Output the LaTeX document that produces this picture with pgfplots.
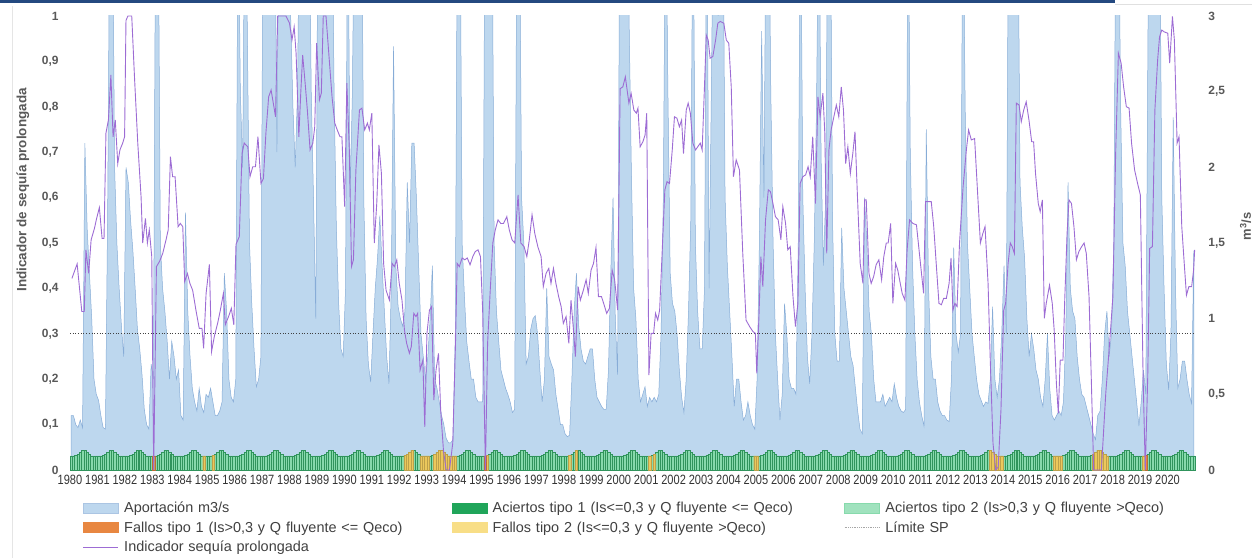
\documentclass[border=0pt]{standalone}
\usepackage{fontspec}
\setmainfont{Liberation Sans}
\newfontfamily\narrowfont[FakeStretch=0.82]{Liberation Sans}
\usepackage{pgfplots}
\usepackage{pgfplotstable}
\pgfplotsset{compat=1.18}
\definecolor{areafill}{RGB}{189,215,238}
\definecolor{areaedge}{RGB}{135,172,215}
\definecolor{purp}{RGB}{157,108,212}
\definecolor{grn}{RGB}{135,218,172}
\definecolor{grnedge}{RGB}{48,148,92}
\definecolor{dkgrn}{RGB}{32,165,90}
\definecolor{ltgrn}{RGB}{160,226,190}
\definecolor{yel}{RGB}{236,200,92}
\definecolor{legyel}{RGB}{248,222,135}
\definecolor{orng}{RGB}{232,135,65}
\definecolor{lblgray}{RGB}{89,89,89}
\definecolor{txtgray}{RGB}{64,64,64}
\definecolor{navy}{RGB}{36,73,128}
\pgfplotstableread[row sep=\\]{
x q b\\
1980.042 0.36 0.031\\ 1980.125 0.36 0.031\\ 1980.208 0.30 0.032\\ 1980.292 0.28 0.035\\ 1980.375 0.33 0.039\\ 1980.458 0.28 0.043\\ 1980.542 2.16 0.044\\ 1980.625 1.6 0.039\\ 1980.708 1.3 0.034\\ 1980.792 1.0 0.031\\ 1980.875 0.6 0.031\\ 1980.958 0.5 0.031\\
1981.042 0.46 0.031\\ 1981.125 0.36 0.031\\ 1981.208 0.28 0.032\\ 1981.292 0.27 0.035\\ 1981.375 1.77 0.039\\ 1981.458 4 0.043\\ 1981.542 4 0.044\\ 1981.625 2.0 0.039\\ 1981.708 1.5 0.034\\ 1981.792 1.2 0.031\\ 1981.875 0.95 0.031\\ 1981.958 0.75 0.031\\
1982.042 2.0 0.031\\ 1982.125 1.9 0.031\\ 1982.208 1.65 0.032\\ 1982.292 1.45 0.035\\ 1982.375 1.2 0.039\\ 1982.458 0.93 0.043\\ 1982.542 0.8 0.044\\ 1982.625 0.63 0.039\\ 1982.708 0.4 0.034\\ 1982.792 0.3 0.031\\ 1982.875 0.27 0.031\\ 1982.958 0.7 0.031\\
1983.042 0.6 0.031\\ 1983.125 4 0.031\\ 1983.208 4 0.032\\ 1983.292 1.5 0.035\\ 1983.375 1.2 0.039\\ 1983.458 1.05 0.043\\ 1983.542 0.85 0.044\\ 1983.625 0.6 0.039\\ 1983.708 0.85 0.034\\ 1983.792 0.75 0.031\\ 1983.875 0.6 0.031\\ 1983.958 0.66 0.031\\
1984.042 0.36 0.031\\ 1984.125 0.33 0.031\\ 1984.208 1.7 0.032\\ 1984.292 1.05 0.035\\ 1984.375 0.75 0.039\\ 1984.458 0.54 0.043\\ 1984.542 0.45 0.044\\ 1984.625 0.39 0.039\\ 1984.708 0.54 0.034\\ 1984.792 0.42 0.031\\ 1984.875 0.38 0.031\\ 1984.958 0.5 0.031\\
1985.042 0.48 0.031\\ 1985.125 0.54 0.031\\ 1985.208 0.45 0.032\\ 1985.292 0.36 0.035\\ 1985.375 0.36 0.039\\ 1985.458 0.39 0.043\\ 1985.542 0.45 0.044\\ 1985.625 1.3 0.039\\ 1985.708 1.05 0.034\\ 1985.792 0.6 0.031\\ 1985.875 0.48 0.031\\ 1985.958 0.45 0.031\\
1986.042 0.6 0.031\\ 1986.125 4 0.031\\ 1986.208 2.5 0.032\\ 1986.292 2.0 0.035\\ 1986.375 4 0.039\\ 1986.458 3 0.043\\ 1986.542 1.5 0.044\\ 1986.625 1.1 0.039\\ 1986.708 0.8 0.034\\ 1986.792 0.55 0.031\\ 1986.875 0.6 0.031\\ 1986.958 0.75 0.031\\
1987.042 4 0.031\\ 1987.125 4 0.031\\ 1987.208 4 0.032\\ 1987.292 4 0.035\\ 1987.375 4 0.039\\ 1987.458 4 0.043\\ 1987.542 2.1 0.044\\ 1987.625 4 0.039\\ 1987.708 4 0.034\\ 1987.792 4 0.031\\ 1987.875 4 0.031\\ 1987.958 4 0.031\\
1988.042 3.0 0.031\\ 1988.125 2.4 0.031\\ 1988.208 2.0 0.032\\ 1988.292 2.5 0.035\\ 1988.375 4 0.039\\ 1988.458 4 0.043\\ 1988.542 4 0.044\\ 1988.625 4 0.039\\ 1988.708 4 0.034\\ 1988.792 2.5 0.031\\ 1988.875 1.8 0.031\\ 1988.958 1.0 0.031\\
1989.042 4 0.031\\ 1989.125 4 0.031\\ 1989.208 4 0.032\\ 1989.292 4 0.035\\ 1989.375 4 0.039\\ 1989.458 4 0.043\\ 1989.542 4 0.044\\ 1989.625 2.5 0.039\\ 1989.708 1.6 0.034\\ 1989.792 1.1 0.031\\ 1989.875 0.8 0.031\\ 1989.958 0.75 0.031\\
1990.042 1.2 0.031\\ 1990.125 4 0.031\\ 1990.208 1.8 0.032\\ 1990.292 2.5 0.035\\ 1990.375 4 0.039\\ 1990.458 4 0.043\\ 1990.542 4 0.044\\ 1990.625 4 0.039\\ 1990.708 1.8 0.034\\ 1990.792 1.0 0.031\\ 1990.875 0.7 0.031\\ 1990.958 0.58 0.031\\
1991.042 0.9 0.031\\ 1991.125 1.2 0.031\\ 1991.208 1.4 0.032\\ 1991.292 1.68 0.035\\ 1991.375 1.35 0.039\\ 1991.458 1.05 0.043\\ 1991.542 0.75 0.044\\ 1991.625 0.57 0.039\\ 1991.708 1.2 0.034\\ 1991.792 2.8 0.031\\ 1991.875 1.35 0.031\\ 1991.958 1.08 0.031\\
1992.042 1.0 0.031\\ 1992.125 0.95 0.031\\ 1992.208 1.05 0.032\\ 1992.292 1.9 0.035\\ 1992.375 1.5 0.039\\ 1992.458 2.16 0.043\\ 1992.542 2.16 0.044\\ 1992.625 1.8 0.039\\ 1992.708 1.35 0.034\\ 1992.792 0.9 0.031\\ 1992.875 0.75 0.031\\ 1992.958 0.6 0.031\\
1993.042 0.75 0.031\\ 1993.125 1.0 0.031\\ 1993.208 1.35 0.032\\ 1993.292 0.6 0.035\\ 1993.375 0.54 0.039\\ 1993.458 0.45 0.043\\ 1993.542 0.36 0.044\\ 1993.625 0.3 0.039\\ 1993.708 0.21 0.034\\ 1993.792 0.18 0.031\\ 1993.875 0.18 0.031\\ 1993.958 0.2 0.031\\
1994.042 0.9 0.031\\ 1994.125 4 0.031\\ 1994.208 4 0.032\\ 1994.292 1.5 0.035\\ 1994.375 1.15 0.039\\ 1994.458 0.85 0.043\\ 1994.542 0.72 0.044\\ 1994.625 0.6 0.039\\ 1994.708 0.6 0.034\\ 1994.792 0.48 0.031\\ 1994.875 0.45 0.031\\ 1994.958 0.45 0.031\\
1995.042 0.45 0.031\\ 1995.125 4 0.031\\ 1995.208 4 0.032\\ 1995.292 4 0.035\\ 1995.375 4 0.039\\ 1995.458 1.5 0.043\\ 1995.542 1.05 0.044\\ 1995.625 0.85 0.039\\ 1995.708 0.66 0.034\\ 1995.792 0.6 0.031\\ 1995.875 0.54 0.031\\ 1995.958 0.5 0.031\\
1996.042 0.45 0.031\\ 1996.125 0.38 0.031\\ 1996.208 0.4 0.032\\ 1996.292 4 0.035\\ 1996.375 4 0.039\\ 1996.458 1.8 0.043\\ 1996.542 1.5 0.044\\ 1996.625 0.7 0.039\\ 1996.708 0.75 0.034\\ 1996.792 0.93 0.031\\ 1996.875 1.0 0.031\\ 1996.958 1.02 0.031\\
1997.042 0.9 0.031\\ 1997.125 0.66 0.031\\ 1997.208 0.45 0.032\\ 1997.292 0.6 0.035\\ 1997.375 1.2 0.039\\ 1997.458 0.75 0.043\\ 1997.542 0.7 0.044\\ 1997.625 0.66 0.039\\ 1997.708 0.5 0.034\\ 1997.792 0.4 0.031\\ 1997.875 0.3 0.031\\ 1997.958 0.3 0.031\\
1998.042 0.24 0.031\\ 1998.125 0.22 0.031\\ 1998.208 0.23 0.032\\ 1998.292 0.6 0.035\\ 1998.375 1.05 0.039\\ 1998.458 1.3 0.043\\ 1998.542 0.95 0.044\\ 1998.625 0.8 0.039\\ 1998.708 0.72 0.034\\ 1998.792 0.7 0.031\\ 1998.875 0.75 0.031\\ 1998.958 0.8 0.031\\
1999.042 0.8 0.031\\ 1999.125 0.6 0.031\\ 1999.208 0.48 0.032\\ 1999.292 0.45 0.035\\ 1999.375 0.42 0.039\\ 1999.458 0.4 0.043\\ 1999.542 0.4 0.044\\ 1999.625 0.66 0.039\\ 1999.708 1.3 0.034\\ 1999.792 1.8 0.031\\ 1999.875 1.0 0.031\\ 1999.958 0.63 0.031\\
2000.042 4 0.031\\ 2000.125 4 0.031\\ 2000.208 4 0.032\\ 2000.292 3.5 0.035\\ 2000.375 3.0 0.039\\ 2000.458 2.0 0.043\\ 2000.542 1.2 0.044\\ 2000.625 1.0 0.039\\ 2000.708 0.6 0.034\\ 2000.792 0.45 0.031\\ 2000.875 0.5 0.031\\ 2000.958 0.55 0.031\\
2001.042 0.42 0.031\\ 2001.125 0.48 0.031\\ 2001.208 0.45 0.032\\ 2001.292 0.48 0.035\\ 2001.375 0.45 0.039\\ 2001.458 0.5 0.043\\ 2001.542 0.9 0.044\\ 2001.625 1.8 0.039\\ 2001.708 4 0.034\\ 2001.792 2.5 0.031\\ 2001.875 1.3 0.031\\ 2001.958 1.1 0.031\\
2002.042 1.05 0.031\\ 2002.125 0.9 0.031\\ 2002.208 0.66 0.032\\ 2002.292 0.48 0.035\\ 2002.375 0.38 0.039\\ 2002.458 0.6 0.043\\ 2002.542 1.05 0.044\\ 2002.625 1.65 0.039\\ 2002.708 4 0.034\\ 2002.792 1.5 0.031\\ 2002.875 1.05 0.031\\ 2002.958 0.8 0.031\\
2003.042 0.8 0.031\\ 2003.125 1.2 0.031\\ 2003.208 4 0.032\\ 2003.292 1.2 0.035\\ 2003.375 2.5 0.039\\ 2003.458 4 0.043\\ 2003.542 4 0.044\\ 2003.625 3.0 0.039\\ 2003.708 4 0.034\\ 2003.792 4 0.031\\ 2003.875 1.8 0.031\\ 2003.958 1.35 0.031\\
2004.042 1.05 0.031\\ 2004.125 0.75 0.031\\ 2004.208 0.42 0.032\\ 2004.292 0.6 0.035\\ 2004.375 0.6 0.039\\ 2004.458 0.45 0.043\\ 2004.542 0.33 0.044\\ 2004.625 0.36 0.039\\ 2004.708 0.45 0.034\\ 2004.792 0.36 0.031\\ 2004.875 0.3 0.031\\ 2004.958 0.27 0.031\\
2005.042 0.6 0.031\\ 2005.125 1.5 0.031\\ 2005.208 2.9 0.032\\ 2005.292 1.8 0.035\\ 2005.375 4 0.039\\ 2005.458 4 0.043\\ 2005.542 2.5 0.044\\ 2005.625 1.5 0.039\\ 2005.708 0.9 0.034\\ 2005.792 0.6 0.031\\ 2005.875 0.33 0.031\\ 2005.958 0.5 0.031\\
2006.042 1.1 0.031\\ 2006.125 0.9 0.031\\ 2006.208 0.6 0.032\\ 2006.292 0.54 0.035\\ 2006.375 0.54 0.039\\ 2006.458 0.5 0.043\\ 2006.542 1.5 0.044\\ 2006.625 4 0.039\\ 2006.708 1.8 0.034\\ 2006.792 1.2 0.031\\ 2006.875 0.75 0.031\\ 2006.958 0.57 0.031\\
2007.042 0.9 0.031\\ 2007.125 1.5 0.031\\ 2007.208 2.4 0.032\\ 2007.292 4 0.035\\ 2007.375 2.07 0.039\\ 2007.458 1.35 0.043\\ 2007.542 1.8 0.044\\ 2007.625 4 0.039\\ 2007.708 4 0.034\\ 2007.792 1.65 0.031\\ 2007.875 0.9 0.031\\ 2007.958 0.72 0.031\\
2008.042 0.72 0.031\\ 2008.125 1.6 0.031\\ 2008.208 1.2 0.032\\ 2008.292 1.05 0.035\\ 2008.375 0.9 0.039\\ 2008.458 0.75 0.043\\ 2008.542 0.69 0.044\\ 2008.625 0.54 0.039\\ 2008.708 0.39 0.034\\ 2008.792 0.27 0.031\\ 2008.875 0.24 0.031\\ 2008.958 1.8 0.031\\
2009.042 1.5 0.031\\ 2009.125 1.05 0.031\\ 2009.208 0.9 0.032\\ 2009.292 0.6 0.035\\ 2009.375 0.45 0.039\\ 2009.458 0.45 0.043\\ 2009.542 0.45 0.044\\ 2009.625 0.5 0.039\\ 2009.708 0.42 0.034\\ 2009.792 0.45 0.031\\ 2009.875 0.48 0.031\\ 2009.958 0.45 0.031\\
2010.042 0.57 0.031\\ 2010.125 0.48 0.031\\ 2010.208 0.42 0.032\\ 2010.292 0.39 0.035\\ 2010.375 0.38 0.039\\ 2010.458 0.4 0.043\\ 2010.542 4 0.044\\ 2010.625 2.1 0.039\\ 2010.708 1.35 0.034\\ 2010.792 0.9 0.031\\ 2010.875 0.6 0.031\\ 2010.958 0.45 0.031\\
2011.042 0.36 0.031\\ 2011.125 0.29 0.031\\ 2011.208 2.25 0.032\\ 2011.292 1.2 0.035\\ 2011.375 0.75 0.039\\ 2011.458 0.6 0.043\\ 2011.542 0.6 0.044\\ 2011.625 0.45 0.039\\ 2011.708 0.39 0.034\\ 2011.792 0.36 0.031\\ 2011.875 0.36 0.031\\ 2011.958 0.33 0.031\\
2012.042 0.32 0.031\\ 2012.125 0.6 0.031\\ 2012.208 1.47 0.032\\ 2012.292 0.9 0.035\\ 2012.375 0.78 0.039\\ 2012.458 0.9 0.043\\ 2012.542 4 0.044\\ 2012.625 2.4 0.039\\ 2012.708 1.5 0.034\\ 2012.792 1.2 0.031\\ 2012.875 0.9 0.031\\ 2012.958 0.75 0.031\\
2013.042 0.6 0.031\\ 2013.125 0.5 0.031\\ 2013.208 0.46 0.032\\ 2013.292 0.42 0.035\\ 2013.375 0.45 0.039\\ 2013.458 0.44 0.043\\ 2013.542 0.6 0.044\\ 2013.625 1.08 0.039\\ 2013.708 0.6 0.034\\ 2013.792 0.48 0.031\\ 2013.875 0.6 0.031\\ 2013.958 0.9 0.031\\
2014.042 1.35 0.031\\ 2014.125 0.9 0.031\\ 2014.208 4 0.032\\ 2014.292 4 0.035\\ 2014.375 4 0.039\\ 2014.458 4 0.043\\ 2014.542 4 0.044\\ 2014.625 1.9 0.039\\ 2014.708 1.6 0.034\\ 2014.792 1.4 0.031\\ 2014.875 1.0 0.031\\ 2014.958 0.75 0.031\\
2015.042 0.9 0.031\\ 2015.125 0.8 0.031\\ 2015.208 0.66 0.032\\ 2015.292 0.6 0.035\\ 2015.375 0.48 0.039\\ 2015.458 0.42 0.043\\ 2015.542 0.6 0.044\\ 2015.625 0.9 0.039\\ 2015.708 0.54 0.034\\ 2015.792 0.36 0.031\\ 2015.875 0.33 0.031\\ 2015.958 0.36 0.031\\
2016.042 0.39 0.031\\ 2016.125 0.36 0.031\\ 2016.208 0.45 0.032\\ 2016.292 0.9 0.035\\ 2016.375 1.9 0.039\\ 2016.458 1.2 0.043\\ 2016.542 1.05 0.044\\ 2016.625 1.0 0.039\\ 2016.708 0.75 0.034\\ 2016.792 0.6 0.031\\ 2016.875 0.5 0.031\\ 2016.958 0.48 0.031\\
2017.042 0.42 0.031\\ 2017.125 0.36 0.031\\ 2017.208 0.3 0.032\\ 2017.292 0.24 0.035\\ 2017.375 0.2 0.039\\ 2017.458 0.36 0.043\\ 2017.542 0.39 0.044\\ 2017.625 0.6 0.039\\ 2017.708 0.9 0.034\\ 2017.792 1.05 0.031\\ 2017.875 0.75 0.031\\ 2017.958 0.9 0.031\\
2018.042 1.5 0.031\\ 2018.125 4 0.031\\ 2018.208 4 0.032\\ 2018.292 2.4 0.035\\ 2018.375 1.5 0.039\\ 2018.458 1.35 0.043\\ 2018.542 1.05 0.044\\ 2018.625 0.9 0.039\\ 2018.708 0.75 0.034\\ 2018.792 0.6 0.031\\ 2018.875 0.45 0.031\\ 2018.958 0.29 0.031\\
2019.042 0.45 0.031\\ 2019.125 0.66 0.031\\ 2019.208 0.5 0.032\\ 2019.292 3.0 0.035\\ 2019.375 4 0.039\\ 2019.458 4 0.043\\ 2019.542 4 0.044\\ 2019.625 4 0.039\\ 2019.708 4 0.034\\ 2019.792 1.8 0.031\\ 2019.875 1.2 0.031\\ 2019.958 0.7 0.031\\
2020.042 0.53 0.031\\ 2020.125 0.9 0.031\\ 2020.208 2.33 0.032\\ 2020.292 1.2 0.035\\ 2020.375 0.54 0.039\\ 2020.458 0.6 0.043\\ 2020.542 0.72 0.044\\ 2020.625 0.72 0.039\\ 2020.708 0.6 0.034\\ 2020.792 0.5 0.031\\ 2020.875 0.44 0.031\\ 2020.958 1.45 0.031\\
}\data
\begin{document}
\begin{tikzpicture}[x=1bp,y=1bp]
\useasboundingbox (0,0) rectangle (1252,558);
\fill[navy] (0,554.5) rectangle (1115,558);
\draw[black!12,line width=0.8bp] (1115,554) -- (1252,554);
\draw[black!10,line width=0.8bp] (12,0) -- (12,552);
% right axis: aportacion
\begin{axis}[at={(70bp,88bp)}, anchor=south west, scale only axis,
  width=1125bp, height=454bp, xmin=1980, xmax=2021, ymin=0, ymax=3,
  axis x line=none, axis y line*=right, axis line style={draw=none},
  major tick length=0pt, xtick=\empty,
  ytick={0,0.5,1,1.5,2,2.5,3},
  /pgf/number format/assume math mode=true,
  yticklabel style={font=\bfseries\fontsize{12}{14}\selectfont, text=lblgray,
    /pgf/number format/use comma, xshift=10bp},
  ylabel={m\textsuperscript{3}/s},
  ylabel style={at={(axis description cs:1.045,0.537)}, anchor=center, rotate=0,
    font=\bfseries\fontsize{13}{15}\selectfont, text=lblgray},
  clip=true]
\addplot[fill=areafill, draw=areaedge, line width=0.5bp] table[x=x,y=q]{\data} \closedcycle;
\end{axis}
% left axis
\begin{axis}[at={(70bp,88bp)}, anchor=south west, scale only axis,
  width=1125bp, height=454bp, xmin=1980, xmax=2021, ymin=0, ymax=1,
  axis x line*=bottom, axis y line*=left, axis line style={draw=none},
  major tick length=0pt, clip=false,
  xtick={1980,1981,...,2020},
  /pgf/number format/assume math mode=true,
  xticklabel style={font=\narrowfont\fontsize{13.5}{15}\selectfont, text=black!80,
    /pgf/number format/1000 sep={}, yshift=-2bp},
  ytick={0,0.1,0.2,0.3,0.4,0.5,0.6,0.7,0.8,0.9,1},
  yticklabel style={font=\bfseries\fontsize{12}{14}\selectfont, text=lblgray,
    /pgf/number format/use comma, /pgf/number format/fixed, xshift=-8bp},
  ylabel={Indicador de sequía prolongada},
  ylabel style={at={(axis description cs:-0.042,0.617)}, anchor=center,
    font=\bfseries\fontsize{13.5}{15}\selectfont, text=lblgray},
  legend columns=3, legend cell align=left,
  legend style={draw=none, fill=none, at={(axis description cs:0.0085,-0.062)},
    anchor=north west, font=\fontsize{14.5}{17}\selectfont, text=txtgray,
    nodes={text width=332bp, inner sep=1.5bp, anchor=west},
    /tikz/every odd column/.style={column sep=4bp},
    /tikz/every even column/.style={},
    /tikz/column 2/.style={column sep=-6bp},
    /tikz/column 4/.style={column sep=18bp},
    row sep=4.5bp},
  ]
\addlegendimage{legend image code/.code={\draw[fill=areafill,draw=areaedge!70] (0bp,-5bp) rectangle (35bp,5bp);}}
\addlegendentry{Aportación m3/s}
\addlegendimage{legend image code/.code={\draw[fill=dkgrn,draw=dkgrn] (0bp,-5bp) rectangle (35bp,5bp);}}
\addlegendentry{Aciertos tipo 1 (Is<=0,3 y Q fluyente <= Qeco)}
\addlegendimage{legend image code/.code={\draw[fill=ltgrn,draw=grn] (0bp,-5bp) rectangle (35bp,5bp);}}
\addlegendentry{Aciertos tipo 2 (Is>0,3 y Q fluyente >Qeco)}
\addlegendimage{legend image code/.code={\draw[fill=orng,draw=orng] (0bp,-5bp) rectangle (35bp,5bp);}}
\addlegendentry{Fallos tipo 1 (Is>0,3 y Q fluyente <= Qeco)}
\addlegendimage{legend image code/.code={\draw[fill=legyel,draw=legyel] (0bp,-5bp) rectangle (35bp,5bp);}}
\addlegendentry{Fallos tipo 2 (Is<=0,3 y Q fluyente >Qeco)}
\addlegendimage{legend image code/.code={\draw[black!35,densely dotted,line width=0.8bp] (0bp,0bp) -- (35bp,0bp);}}
\addlegendentry{Límite SP}
\addlegendimage{legend image code/.code={\draw[purp,line width=1bp] (0bp,0bp) -- (35bp,0bp);}}
\addlegendentry{Indicador sequía prolongada}
% bars
\addplot[forget plot, ybar, bar width=0.0833, bar shift=0pt, fill=grn, draw=grnedge, line width=0.2bp]
  table[x=x,y=b]{\data};
\addplot[forget plot, ybar, bar width=0.0833, bar shift=0pt, fill=yel, draw=yel!80!black, line width=0.2bp]
  coordinates {(1984.875,0.031)(1985.208,0.032)
  (1992.208,0.032)(1992.292,0.035)(1992.375,0.039)(1992.458,0.043)
  (1992.792,0.031)(1992.875,0.031)(1992.958,0.031)(1993.042,0.031)
  (1993.292,0.035)(1993.375,0.039)(1993.458,0.043)(1993.542,0.044)(1993.625,0.039)(1993.708,0.034)(1993.792,0.031)(1993.875,0.031)(1993.958,0.031)(1994.042,0.031)
  (1995.208,0.032)(1998.208,0.032)(1998.458,0.043)
  (2001.125,0.031)(2001.292,0.035)(2004.958,0.031)(2005.042,0.031)
  (2013.542,0.044)(2013.625,0.039)(2013.708,0.034)(2013.792,0.031)(2013.875,0.031)(2013.958,0.031)
  (2015.875,0.031)(2015.958,0.031)(2016.042,0.031)(2016.125,0.031)
  (2017.292,0.035)(2017.375,0.039)(2017.458,0.043)(2017.542,0.044)(2017.625,0.039)(2017.708,0.034)(2017.792,0.031)
  (2019.125,0.031)};
\addplot[forget plot, ybar, bar width=0.0833, bar shift=0pt, fill=orng, draw=orng!80!black, line width=0.2bp]
  coordinates {(1983.042,0.031)(1995.125,0.031)(2019.208,0.032)};
% limit line
\addplot[forget plot, black!75, dotted, line width=0.7bp] coordinates {(1980,0.3)(2021,0.3)};
% indicator
\addplot[forget plot, purp, line width=0.9bp] coordinates {
(1980.07,0.422)(1980.26,0.454)(1980.43,0.349)(1980.52,0.349)(1980.58,0.485)(1980.68,0.433)(1980.77,0.507)(1980.89,0.532)(1980.97,0.554)(1981.07,0.578)(1981.17,0.51)(1981.24,0.51)(1981.31,0.742)(1981.40,0.771)(1981.49,0.87)(1981.57,0.734)(1981.65,0.771)(1981.74,0.675)(1981.82,0.705)(1981.92,0.72)(1981.99,0.734)(1982.04,0.99)(1982.11,1)(1982.25,1)(1982.35,0.866)(1982.47,0.72)(1982.59,0.602)(1982.65,0.5)(1982.75,0.554)(1982.82,0.5)(1982.89,0.529)(1982.98,0.47)(1983.05,0)(1983.15,0.448)(1983.26,0.459)(1983.38,0.477)(1983.50,0.507)(1983.58,0.529)(1983.66,0.69)(1983.74,0.646)(1983.83,0.646)(1983.94,0.536)(1984.02,0.543)(1984.11,0.536)(1984.18,0.415)(1984.28,0.433)(1984.37,0.411)(1984.47,0.396)(1984.59,0.352)(1984.71,0.312)(1984.81,0.312)(1984.87,0.268)(1984.96,0.389)(1985.08,0.453)(1985.16,0.261)(1985.26,0.294)(1985.38,0.323)(1985.48,0.352)(1985.59,0.389)(1985.66,0.32)(1985.78,0.338)(1985.88,0.356)(1985.97,0.32)(1986.05,0.497)(1986.17,0.514)(1986.27,0.697)(1986.35,0.72)(1986.48,0.712)(1986.56,0.646)(1986.66,0.668)(1986.76,0.668)(1986.85,0.734)(1986.96,0.631)(1987.05,0.642)(1987.14,0.742)(1987.24,0.822)(1987.33,0.837)(1987.41,0.808)(1987.49,0.778)(1987.57,1)(1987.69,1)(1987.87,1)(1988.00,0.984)(1988.09,0.947)(1988.17,0.976)(1988.24,0.918)(1988.34,0.734)(1988.41,0.83)(1988.48,0.914)(1988.57,0.852)(1988.65,0.793)(1988.75,0.705)(1988.85,0.72)(1988.92,0.756)(1988.99,0.94)(1989.09,0.815)(1989.16,0.83)(1989.23,1)(1989.33,1)(1989.45,0.903)(1989.55,0.822)(1989.65,0.764)(1989.74,0.749)(1989.84,0.734)(1989.91,0.734)(1990.01,0.58)(1990.09,0.852)(1990.18,0.705)(1990.26,0.448)(1990.33,0.463)(1990.42,0.661)(1990.55,0.793)(1990.64,0.797)(1990.74,0.749)(1990.84,0.764)(1990.91,0.749)(1991.00,0.786)(1991.09,0.5)(1991.18,0.587)(1991.26,0.716)(1991.35,0.653)(1991.43,0.455)(1991.52,0.396)(1991.64,0.374)(1991.74,0.455)(1991.82,0.448)(1991.91,0.463)(1992.00,0.411)(1992.10,0.374)(1992.19,0.308)(1992.27,0.279)(1992.37,0.257)(1992.44,0.272)(1992.53,0.345)(1992.61,0.338)(1992.67,0.345)(1992.76,0.22)(1992.86,0.242)(1992.93,0.095)(1993.01,0.301)(1993.10,0.352)(1993.18,0.36)(1993.26,0.154)(1993.34,0.22)(1993.43,0.257)(1993.51,0.132)(1993.61,0.044)(1993.71,0)(1993.83,0)(1993.95,0.059)(1994.05,0.279)(1994.11,0.455)(1994.19,0.448)(1994.29,0.467)(1994.39,0.463)(1994.48,0.467)(1994.58,0.452)(1994.68,0.47)(1994.77,0.481)(1994.87,0.485)(1994.96,0.47)(1995.04,0.352)(1995.14,0)(1995.22,0.279)(1995.31,0.389)(1995.41,0.5)(1995.50,0.529)(1995.60,0.551)(1995.70,0.543)(1995.80,0.543)(1995.92,0.558)(1996.01,0.529)(1996.11,0.507)(1996.21,0.5)(1996.33,0.606)(1996.43,0.5)(1996.55,0.492)(1996.65,0.47)(1996.74,0.507)(1996.84,0.562)(1996.94,0.521)(1997.05,0.492)(1997.17,0.47)(1997.25,0.404)(1997.35,0.433)(1997.45,0.444)(1997.53,0.411)(1997.62,0.444)(1997.71,0.411)(1997.81,0.382)(1997.90,0.36)(1997.98,0.323)(1998.08,0.338)(1998.18,0.279)(1998.26,0.374)(1998.35,0.308)(1998.42,0.25)(1998.52,0.404)(1998.60,0.374)(1998.71,0.396)(1998.81,0.419)(1998.89,0.389)(1998.99,0.44)(1999.08,0.455)(1999.17,0.49)(1999.26,0.382)(1999.37,0.382)(1999.45,0.367)(1999.56,0.345)(1999.66,0.356)(1999.76,0.44)(1999.85,0.419)(1999.96,0.352)(2000.05,0.84)(2000.15,0.844)(2000.24,0.866)(2000.37,0.808)(2000.45,0.83)(2000.55,0.793)(2000.64,0.786)(2000.70,0.797)(2000.78,0.712)(2000.88,0.723)(2000.96,0.738)(2001.02,0.786)(2001.10,0.209)(2001.18,0.301)(2001.27,0.301)(2001.34,0.345)(2001.42,0.33)(2001.49,0.352)(2001.58,0.477)(2001.68,0.617)(2001.76,0.635)(2001.85,0.631)(2001.95,0.705)(2002.03,0.778)(2002.12,0.775)(2002.21,0.756)(2002.29,0.771)(2002.36,0.697)(2002.46,0.793)(2002.53,0.808)(2002.61,0.786)(2002.70,0.72)(2002.80,0.705)(2002.88,0.712)(2002.97,0.72)(2003.04,0.705)(2003.12,0.837)(2003.19,0.958)(2003.26,0.947)(2003.33,0.907)(2003.43,0.911)(2003.53,0.947)(2003.61,0.984)(2003.70,0.988)(2003.83,0.984)(2003.92,0.947)(2004.01,0.94)(2004.10,0.844)(2004.18,0.646)(2004.28,0.683)(2004.40,0.661)(2004.52,0.477)(2004.64,0.33)(2004.77,0.316)(2004.89,0.305)(2004.98,0.301)(2005.03,0.213)(2005.11,0.338)(2005.18,0.47)(2005.25,0.404)(2005.35,0.551)(2005.45,0.617)(2005.53,0.613)(2005.62,0.587)(2005.71,0.558)(2005.81,0.551)(2005.91,0.507)(2005.98,0.58)(2006.08,0.543)(2006.16,0.485)(2006.25,0.492)(2006.35,0.382)(2006.44,0.316)(2006.53,0.367)(2006.61,0.631)(2006.71,0.646)(2006.81,0.65)(2006.90,0.668)(2006.98,0.646)(2007.07,0.734)(2007.17,0.587)(2007.26,0.822)(2007.34,0.778)(2007.44,0.83)(2007.51,0.742)(2007.58,0.477)(2007.66,0.705)(2007.74,0.749)(2007.84,0.778)(2007.93,0.804)(2008.02,0.778)(2008.11,0.844)(2008.19,0.793)(2008.27,0.675)(2008.35,0.712)(2008.44,0.653)(2008.53,0.697)(2008.61,0.745)(2008.70,0.602)(2008.80,0.455)(2008.90,0.411)(2008.96,0.595)(2009.02,0.595)(2009.12,0.433)(2009.20,0.411)(2009.29,0.426)(2009.38,0.452)(2009.48,0.463)(2009.58,0.419)(2009.66,0.47)(2009.75,0.5)(2009.82,0.5)(2009.91,0.543)(2009.99,0.367)(2010.09,0.455)(2010.17,0.44)(2010.26,0.411)(2010.33,0.389)(2010.43,0.374)(2010.51,0.485)(2010.60,0.551)(2010.72,0.543)(2010.85,0.54)(2010.97,0.47)(2011.11,0.389)(2011.18,0.591)(2011.28,0.591)(2011.39,0.591)(2011.48,0.536)(2011.57,0.455)(2011.67,0.367)(2011.76,0.364)(2011.84,0.378)(2011.94,0.378)(2012.04,0.411)(2012.11,0.467)(2012.18,0.352)(2012.25,0.367)(2012.33,0.36)(2012.42,0.5)(2012.55,0.624)(2012.67,0.705)(2012.75,0.749)(2012.85,0.727)(2012.97,0.73)(2013.06,0.631)(2013.18,0.5)(2013.27,0.521)(2013.35,0.536)(2013.46,0.411)(2013.54,0.242)(2013.64,0.059)(2013.74,0)(2013.83,0.007)(2013.93,0.132)(2014.03,0.352)(2014.10,0.367)(2014.19,0.455)(2014.27,0.5)(2014.34,0.492)(2014.42,0.477)(2014.49,0.808)(2014.59,0.804)(2014.67,0.767)(2014.76,0.793)(2014.85,0.811)(2014.95,0.771)(2015.05,0.723)(2015.12,0.723)(2015.19,0.653)(2015.29,0.587)(2015.36,0.569)(2015.44,0.595)(2015.51,0.334)(2015.58,0.367)(2015.70,0.407)(2015.80,0.367)(2015.87,0.308)(2015.95,0.191)(2016.02,0.125)(2016.09,0.242)(2016.19,0.242)(2016.25,0.367)(2016.34,0.521)(2016.41,0.595)(2016.50,0.587)(2016.59,0.536)(2016.68,0.463)(2016.77,0.481)(2016.87,0.492)(2016.96,0.5)(2017.04,0.477)(2017.14,0.382)(2017.22,0.206)(2017.31,0)(2017.47,0)(2017.59,0)(2017.75,0.169)(2017.89,0.279)(2018.01,0.382)(2018.11,0.697)(2018.21,0.918)(2018.31,0.896)(2018.40,0.844)(2018.50,0.8)(2018.60,0.797)(2018.69,0.72)(2018.80,0.661)(2018.91,0.631)(2019.01,0.606)(2019.11,0.206)(2019.19,0)(2019.28,0.206)(2019.35,0.488)(2019.45,0.492)(2019.54,0.793)(2019.64,0.903)(2019.71,0.954)(2019.79,0.969)(2019.88,0.965)(2020.01,0.962)(2020.08,0.896)(2020.18,0.999)(2020.25,0.947)(2020.35,0.72)(2020.42,0.734)(2020.52,0.536)(2020.61,0.455)(2020.69,0.385)(2020.78,0.404)(2020.88,0.404)(2020.95,0.44)(2020.99,0.485)};
\end{axis}
\end{tikzpicture}
\end{document}
